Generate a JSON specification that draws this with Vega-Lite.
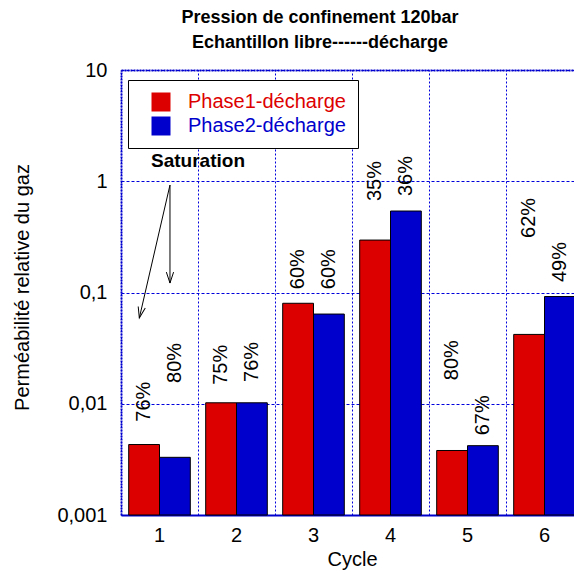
{
  "$schema": "https://vega.github.io/schema/vega-lite/v6.json",
  "autosize": {"type": "none"},
  "padding": {"left": 121, "top": 70, "right": 0, "bottom": 59},
  "width": 453,
  "height": 445,
  "background": "white",
  "config": {
    "font": "Liberation Sans",
    "view": {"stroke": null},
    "axis": {"labelColor": "black", "titleColor": "black", "labelFont": "Liberation Sans", "titleFont": "Liberation Sans"}
  },
  "title": {
    "text": ["Pression de confinement 120bar", "Echantillon libre------décharge"],
    "fontSize": 18,
    "fontWeight": "bold",
    "font": "Liberation Sans",
    "lineHeight": 25,
    "offset": 8,
    "dx": -27.5,
    "anchor": "middle",
    "color": "black"
  },
  "datasets": {
    "bars": [
      {"cycle": "1", "phase": "Phase1-décharge", "value": 0.0043},
      {"cycle": "1", "phase": "Phase2-décharge", "value": 0.0033},
      {"cycle": "2", "phase": "Phase1-décharge", "value": 0.0102},
      {"cycle": "2", "phase": "Phase2-décharge", "value": 0.0102},
      {"cycle": "3", "phase": "Phase1-décharge", "value": 0.08},
      {"cycle": "3", "phase": "Phase2-décharge", "value": 0.064},
      {"cycle": "4", "phase": "Phase1-décharge", "value": 0.296},
      {"cycle": "4", "phase": "Phase2-décharge", "value": 0.54},
      {"cycle": "5", "phase": "Phase1-décharge", "value": 0.0038},
      {"cycle": "5", "phase": "Phase2-décharge", "value": 0.0042},
      {"cycle": "6", "phase": "Phase1-décharge", "value": 0.042},
      {"cycle": "6", "phase": "Phase2-décharge", "value": 0.092}
    ],
    "labels": [
      {"cycle": "1", "phase": "Phase1-décharge", "text": "76%", "at": 0.0069},
      {"cycle": "1", "phase": "Phase2-décharge", "text": "80%", "at": 0.0154},
      {"cycle": "2", "phase": "Phase1-décharge", "text": "75%", "at": 0.0148},
      {"cycle": "2", "phase": "Phase2-décharge", "text": "76%", "at": 0.0157},
      {"cycle": "3", "phase": "Phase1-décharge", "text": "60%", "at": 0.107},
      {"cycle": "3", "phase": "Phase2-décharge", "text": "60%", "at": 0.107},
      {"cycle": "4", "phase": "Phase1-décharge", "text": "35%", "at": 0.664},
      {"cycle": "4", "phase": "Phase2-décharge", "text": "36%", "at": 0.736},
      {"cycle": "5", "phase": "Phase1-décharge", "text": "80%", "at": 0.0163},
      {"cycle": "5", "phase": "Phase2-décharge", "text": "67%", "at": 0.0052},
      {"cycle": "6", "phase": "Phase1-décharge", "text": "62%", "at": 0.309},
      {"cycle": "6", "phase": "Phase2-décharge", "text": "49%", "at": 0.124}
    ],
    "arrows": [
      {"px": 1.136, "py": 0.925, "px2": 1.136, "py2": 0.1216},
      {"px": 1.136, "py": 0.925, "px2": 0.738, "py2": 0.059}
    ]
  },
  "layer": [
    {
      "layer": [
        {
          "data": {"name": "bars"},
          "mark": {"type": "bar", "stroke": "black", "strokeWidth": 1},
          "encoding": {
            "x": {
              "field": "cycle",
              "type": "nominal",
              "scale": {"range": [0, 462], "paddingInner": 0, "paddingOuter": 0},
              "axis": {
                "orient": "bottom",
                "title": "Cycle",
                "titleFontSize": 20,
                "titleFontWeight": "normal",
                "titlePadding": 4,
                "labelAngle": 0,
                "labelFontSize": 20,
                "labelPadding": 10,
                "ticks": false,
                "grid": false,
                "domainColor": "#0000cc",
                "domainWidth": 2
              }
            },
            "xOffset": {"field": "phase", "type": "nominal", "scale": {"paddingInner": 0, "paddingOuter": 0.25}},
            "y": {
              "field": "value",
              "type": "quantitative",
              "scale": {"type": "log", "domain": [0.001, 10]},
              "axis": {
                "title": "Perméabilité relative du gaz",
                "titleFontSize": 20,
                "titleFontWeight": "normal",
                "titleX": -99,
                "titleY": 217,
                "titleAlign": "center",
                "titleBaseline": "middle",
                "titleAngle": -90,
                "values": [0.001, 0.01, 0.1, 1, 10],
                "labelExpr": "replace(toString(datum.value), '.', ',')",
                "labelFontSize": 20,
                "labelPadding": 14,
                "ticks": false,
                "grid": true,
                "gridColor": "#0000dd",
                "gridDash": [3, 2],
                "gridWidth": 1,
                "domainColor": "#0000cc",
                "domainDash": [2, 1],
                "domainWidth": 2
              }
            },
            "y2": {"datum": 0.001},
            "color": {
              "field": "phase",
              "type": "nominal",
              "scale": {"domain": ["Phase1-décharge", "Phase2-décharge"], "range": ["#dd0000", "#0000cc"]},
              "legend": {
                "orient": "none",
                "legendX": 7,
                "legendY": 10,
                "title": null,
                "strokeColor": "black",
                "fillColor": "white",
                "padding": 12,
                "symbolType": "square",
                "symbolSize": 361,
                "symbolStrokeWidth": 0,
                "symbolOffset": 11,
                "labelOffset": 17,
                "labelFontSize": 20,
                "labelFont": "Liberation Sans",
                "labelColor": {"expr": "datum.value == 'Phase1-décharge' ? '#dd0000' : '#0000cc'"},
                "rowPadding": 4,
                "labelLimit": 300,
                "encode": {
                  "legend": {"update": {"strokeWidth": {"value": 2}}}
                }
              }
            }
          }
        },
        {
          "data": {"name": "labels"},
          "mark": {"type": "text", "angle": -90, "align": "left", "baseline": "middle", "fontSize": 20, "color": "black"},
          "encoding": {
            "x": {"field": "cycle", "type": "nominal"},
            "xOffset": {"field": "phase", "type": "nominal"},
            "y": {"field": "at", "type": "quantitative"},
            "text": {"field": "text", "type": "nominal"}
          }
        }
      ]
    },
    {
      "layer": [
        {
          "data": {"values": [{"px": 1.5, "py": 1.52, "note": "Saturation"}]},
          "mark": {"type": "text", "fontSize": 19, "fontWeight": "bold", "align": "center", "baseline": "middle", "color": "black"},
          "encoding": {
            "x": {
              "field": "px",
              "type": "quantitative",
              "scale": {"domain": [0.5, 6.5], "range": [0, 462], "zero": false, "nice": false},
              "axis": {
                "orient": "top",
                "title": null,
                "values": [0.5, 1.5, 2.5, 3.5, 4.5, 5.5, 6.5],
                "labels": false,
                "ticks": false,
                "grid": true,
                "gridColor": "#0000dd",
                "gridDash": [2, 2],
                "gridWidth": 1,
                "domainColor": "#0000cc",
                "domainDash": [2, 1],
                "domainWidth": 2
              }
            },
            "y": {"field": "py", "type": "quantitative"},
            "text": {"field": "note", "type": "nominal"}
          }
        },
        {
          "data": {"name": "arrows"},
          "mark": {"type": "rule", "color": "black", "strokeWidth": 1},
          "encoding": {
            "x": {"field": "px", "type": "quantitative"},
            "x2": {"field": "px2"},
            "y": {"field": "py", "type": "quantitative"},
            "y2": {"field": "py2"}
          }
        },
        {
          "data": {"values": [{"px2": 1.136, "py2": 0.1216}]},
          "mark": {"type": "point", "shape": "M-0.33,-1L0,0L0.33,-1", "filled": false, "stroke": "black", "strokeWidth": 1, "size": 480, "angle": 0, "opacity": 1},
          "encoding": {
            "x": {"field": "px2", "type": "quantitative"},
            "y": {"field": "py2", "type": "quantitative"}
          }
        },
        {
          "data": {"values": [{"px2": 0.738, "py2": 0.059}]},
          "mark": {"type": "point", "shape": "M-0.33,-1L0,0L0.33,-1", "filled": false, "stroke": "black", "strokeWidth": 1, "size": 480, "angle": 12.7, "opacity": 1},
          "encoding": {
            "x": {"field": "px2", "type": "quantitative"},
            "y": {"field": "py2", "type": "quantitative"}
          }
        }
      ]
    }
  ],
  "resolve": {"scale": {"x": "independent"}, "axis": {"x": "independent"}}
}
